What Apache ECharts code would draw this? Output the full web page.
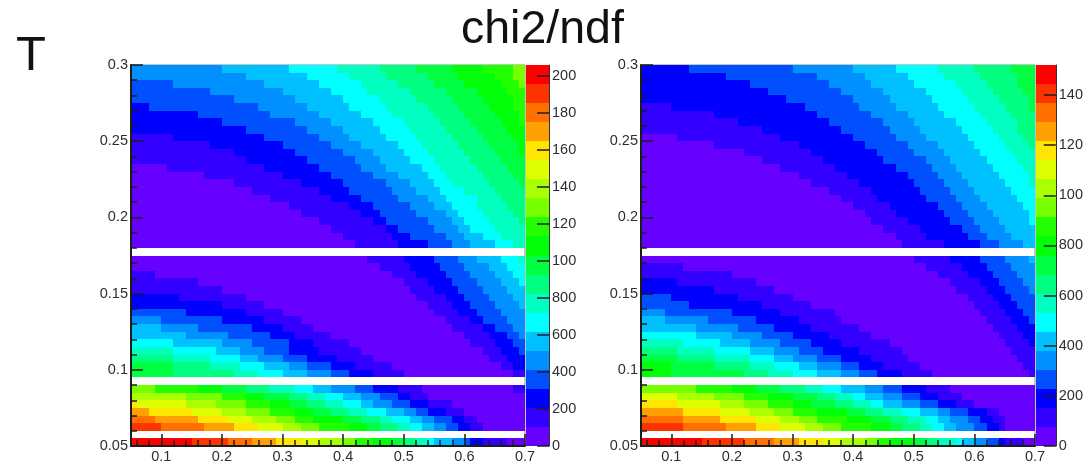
<!DOCTYPE html>
<html><head><meta charset="utf-8">
<style>html,body{margin:0;padding:0;background:#fff}#c{width:1086px;height:469px;filter:blur(0.55px)}</style>
<script src="https://cdn.jsdelivr.net/npm/echarts@6/dist/echarts.min.js"></script>
</head><body><div id="c"></div>
<script>
// Contour bands. Each row (bottom to top, 0.005 tall) lists [band, endColumn, ...]; columns are 0.01 wide. null = empty (white) row.
const leftRows = [
[19,10,18,16,17,20,16,24,15,28,14,31,13,35,12,37,11,40,10,43,9,45,8,47,7,49,6,50,5,53,4,55,3,56,2,58,1,62,0,65],
null,
[18,5,17,12,16,17,15,21,14,25,13,28,12,31,11,36,10,39,9,41,8,44,7,46,6,48,5,50,4,52,3,54,2,56,1,58,0,65],
[17,4,16,11,15,16,14,20,13,24,12,27,11,30,10,35,9,38,8,41,7,43,6,46,5,48,4,50,3,53,2,55,1,57,0,65],
[16,3,15,10,14,15,13,19,12,23,11,27,10,30,9,33,8,36,7,39,6,42,5,45,4,47,3,49,2,52,1,55,0,65],
[15,1,14,9,13,14,12,19,11,23,10,26,9,29,8,32,7,35,6,38,5,40,4,43,3,46,2,49,1,53,0,65],
[13,9,12,15,11,19,10,22,9,26,8,29,7,32,6,35,5,38,4,41,3,44,2,46,1,49,0,65],
[12,4,11,11,10,15,9,19,8,23,7,27,6,30,5,33,4,37,3,40,2,44,1,48,0,63,1,65],
null,
[9,7,8,17,7,21,6,25,5,29,4,33,3,36,2,40,1,45,0,63,1,65],
[9,7,8,13,7,18,6,22,5,26,4,29,3,33,2,37,1,43,0,61,1,63,2,65],
[8,7,7,13,6,18,5,21,4,25,3,29,2,34,1,40,0,59,1,62,2,65],
[7,7,6,14,5,18,4,22,3,26,2,31,1,38,0,58,1,61,2,64,3,65],
[6,7,5,15,4,20,3,26,2,30,1,36,0,56,1,60,2,63,3,65],
[5,9,4,16,3,23,2,27,1,33,0,55,1,59,2,62,3,64,4,65],
[5,5,4,11,3,20,2,25,1,30,0,53,1,58,2,60,3,63,4,65],
[4,5,3,15,2,22,1,28,0,52,1,56,2,58,3,62,4,65],
[3,9,2,19,1,25,0,50,1,54,2,57,3,61,4,65],
[2,15,1,22,0,49,1,53,2,56,3,60,4,64,5,65],
[2,8,1,19,0,47,1,52,2,55,3,59,4,63,5,65],
[1,15,0,46,1,50,2,54,3,58,4,62,5,65],
[1,11,0,45,1,49,2,53,3,57,4,61,5,64,6,65],
[1,4,0,43,1,47,2,52,3,56,4,60,5,63,6,65],
[0,41,1,46,2,51,3,55,4,59,5,62,6,65],
[0,39,1,45,2,50,3,54,4,57,5,61,6,64,7,65],
null,
[0,37,1,44,2,49,3,53,4,56,5,60,6,63,7,65],
[0,35,1,43,2,46,3,52,4,55,5,58,6,61,7,65],
[0,33,1,42,2,44,3,50,4,54,5,56,6,60,7,65],
[0,31,1,40,2,42,3,49,4,53,5,55,6,59,7,64,8,65],
[0,28,1,38,2,41,3,47,4,52,5,54,6,58,7,63,8,65],
[0,26,1,36,2,40,3,46,4,50,5,53,6,57,7,62,8,65],
[0,23,1,33,2,38,3,44,4,49,5,52,6,57,7,61,8,65],
[0,20,1,31,2,36,3,43,4,47,5,51,6,55,7,60,8,65],
[0,17,1,28,2,35,3,42,4,46,5,50,6,53,7,59,8,64,9,65],
[0,12,1,25,2,33,3,40,4,44,5,49,6,52,7,58,8,63,9,65],
[0,6,1,22,2,31,3,38,4,42,5,48,6,51,7,57,8,62,9,65],
[1,19,2,29,3,37,4,41,5,46,6,50,7,56,8,61,9,65],
[1,17,2,27,3,35,4,40,5,45,6,49,7,55,8,60,9,64,10,65],
[1,13,2,25,3,33,4,38,5,44,6,48,7,54,8,59,9,64,10,65],
[1,7,2,22,3,31,4,36,5,42,6,47,7,53,8,58,9,63,10,65],
[2,19,3,29,4,35,5,41,6,46,7,52,8,57,9,62,10,65],
[2,15,3,27,4,33,5,40,6,45,7,51,8,56,9,61,10,64,11,65],
[2,11,3,23,4,31,5,38,6,43,7,50,8,55,9,60,10,64,11,65],
[2,3,3,21,4,29,5,36,6,42,7,49,8,54,9,59,10,63,11,65],
[3,17,4,27,5,35,6,41,7,47,8,53,9,58,10,63,11,65],
[3,13,4,25,5,33,6,39,7,46,8,52,9,57,10,62,11,65],
[3,7,4,22,5,31,6,38,7,44,8,50,9,55,10,61,11,64,12,65],
[4,19,5,29,6,36,7,42,8,49,9,54,10,60,11,63,12,65],
[4,15,5,26,6,34,7,41,8,47,9,53,10,58,11,63,12,65]
];
const rightRows = [
[19,10,18,17,17,22,16,26,15,30,14,33,13,37,12,39,11,41,10,45,9,47,8,49,7,52,6,53,5,55,4,57,3,59,2,60,1,63,0,65],
null,
[18,7,17,14,16,19,15,23,14,27,13,30,12,33,11,38,10,41,9,43,8,46,7,48,6,50,5,52,4,55,3,57,2,59,1,60,0,65],
[17,7,16,13,15,19,14,23,13,26,12,29,11,34,10,38,9,41,8,44,7,47,6,49,5,51,4,54,3,56,2,58,1,60,0,65],
[16,7,15,13,14,18,13,22,12,25,11,29,10,34,9,37,8,40,7,43,6,46,5,49,4,51,3,54,2,57,1,59,0,65],
[15,6,14,13,13,17,12,21,11,25,10,28,9,32,8,35,7,38,6,40,5,43,4,46,3,49,2,52,1,55,0,65],
[14,6,13,12,12,17,11,21,10,25,9,29,8,32,7,35,6,37,5,40,4,43,3,46,2,49,1,53,0,65],
[12,9,11,15,10,19,9,23,8,27,7,30,6,33,5,37,4,40,3,43,2,47,1,51,0,65],
null,
[10,5,9,17,8,21,7,25,6,29,5,33,4,36,3,39,2,43,1,48,0,64,1,65],
[10,5,9,12,8,18,7,22,6,26,5,29,4,33,3,36,2,40,1,46,0,63,1,65],
[9,6,8,12,7,18,6,22,5,25,4,29,3,33,2,38,1,44,0,62,1,65],
[8,6,7,12,6,18,5,22,4,26,3,30,2,36,1,43,0,61,1,65],
[7,7,6,13,5,18,4,23,3,28,2,33,1,41,0,60,1,64,2,65],
[6,9,5,15,4,20,3,25,2,31,1,38,0,59,1,63,2,65],
[5,9,4,16,3,22,2,28,1,36,0,58,1,62,2,65],
[5,4,4,11,3,19,2,26,1,33,0,57,1,61,2,64,3,65],
[4,4,3,15,2,23,1,32,0,56,1,60,2,63,3,65],
[3,8,2,20,1,28,0,55,1,59,2,62,3,65],
[3,5,2,16,1,25,0,54,1,58,2,61,3,65],
[2,12,1,22,0,52,1,57,2,60,3,64,4,65],
[2,6,1,19,0,51,1,56,2,59,3,63,4,65],
[1,15,0,49,1,54,2,58,3,62,4,65],
[1,7,0,47,1,53,2,57,3,61,4,65],
[0,45,1,51,2,56,3,60,4,64,5,65],
null,
[0,43,1,50,2,56,3,59,4,63,5,65],
[0,42,1,47,2,54,3,57,4,61,5,65],
[0,40,1,46,2,53,3,56,4,60,5,65],
[0,38,1,44,2,51,3,55,4,59,5,64,6,65],
[0,37,1,42,2,50,3,54,4,58,5,64,6,65],
[0,35,1,41,2,49,3,53,4,57,5,63,6,65],
[0,33,1,39,2,47,3,52,4,56,5,62,6,65],
[0,31,1,38,2,46,3,51,4,55,5,61,6,65],
[0,28,1,36,2,45,3,50,4,54,5,60,6,64,7,65],
[0,26,1,34,2,44,3,49,4,53,5,59,6,64,7,65],
[0,23,1,32,2,42,3,48,4,52,5,58,6,63,7,65],
[0,20,1,30,2,40,3,47,4,51,5,57,6,62,7,65],
[0,17,1,28,2,39,3,45,4,50,5,56,6,61,7,65],
[0,12,1,26,2,37,3,44,4,49,5,55,6,60,7,64,8,65],
[0,6,1,23,2,35,3,42,4,47,5,54,6,59,7,63,8,65],
[1,20,2,33,3,41,4,46,5,53,6,58,7,62,8,65],
[1,16,2,31,3,40,4,45,5,52,6,57,7,62,8,65],
[1,12,2,29,3,38,4,44,5,50,6,56,7,61,8,65],
[1,5,2,27,3,36,4,42,5,49,6,55,7,60,8,64,9,65],
[2,24,3,35,4,41,5,48,6,54,7,59,8,64,9,65],
[2,21,3,33,4,40,5,47,6,53,7,58,8,63,9,65],
[2,18,3,31,4,38,5,45,6,52,7,57,8,62,9,65],
[2,14,3,29,4,37,5,44,6,50,7,56,8,62,9,65],
[2,8,3,25,4,35,5,42,6,49,7,55,8,61,9,65]
];
const palette = ['#6600ff','#3300ff','#0000ff','#0050ff','#0090ff','#00c0ff','#00ffff','#00ffc0','#00ff80','#00ff40','#00ff08','#22ff00','#77ff00','#aaff00','#ddff00','#ffe600','#ffa000','#ff7000','#ff3300','#ff0000'];
const leftMax = 205.8, rightMax = 152;
const xMajor = [0.1,0.2,0.3,0.4,0.5,0.6,0.7];
const xMinor = [0.06,0.08,0.12,0.14,0.16,0.18,0.22,0.24,0.26,0.28,0.32,0.34,0.36,0.38,0.42,0.44,0.46,0.48,0.52,0.54,0.56,0.58,0.62,0.64,0.66,0.68];
const yMajor = [0.05,0.1,0.15,0.2,0.25,0.3];
const yMinor = [0.06,0.07,0.08,0.09,0.11,0.12,0.13,0.14,0.16,0.17,0.18,0.19,0.21,0.22,0.23,0.24,0.26,0.27,0.28,0.29];
const leftBarTicks = [0,20,40,60,80,100,120,140,160,180,200];
const leftBarLabels = ['0','200','400','600','800','100','120','140','160','180','200'];
const rightBarTicks = [0,20,40,60,80,100,120,140];
const rightBarLabels = ['0','200','400','600','800','100','120','140'];

const font = '"Liberation Sans", Arial, sans-serif';
const ink = '#1c1c1c';
const labelInk = '#2b2f36';
function cells(rows, max){
  const step = max/20, out = [];
  rows.forEach((r,i)=>{
    if(!r) return;
    let c0 = 0;
    for(let k=0;k<r.length;k+=2){
      out.push([0.05+c0*0.01, 0.05+r[k+1]*0.01, 0.05+i*0.005, 0.05+(i+1)*0.005, (r[k]+0.5)*step]);
      c0 = r[k+1];
    }
  });
  return out;
}
function barCells(max){
  const step = max/20;
  return palette.map((p,k)=>[0,1,k*step,(k+1)*step,(k+0.5)*step]);
}
const render = max => (params, api) => {
  const a = api.coord([api.value(0), api.value(2)]);
  const b = api.coord([api.value(1), api.value(3)]);
  const x0 = Math.round(a[0]), x1 = Math.round(b[0]), y0 = Math.round(b[1]), y1 = Math.round(a[1]);
  const band = Math.min(19, Math.floor(api.value(4)/(max/20)));
  return {type:'rect', shape:{x:x0,y:y0,width:x1-x0,height:y1-y0}, style:{fill:palette[band]}};
};
function series(data,max,xi,yi){
  return {type:'custom', xAxisIndex:xi, yAxisIndex:yi, renderItem:render(max), data, clip:false, silent:true, animation:false,
          encode:{x:[0,1],y:[2,3]}, z:2};
}
function mainX(grid, major){
  return major
   ? {type:'value',gridIndex:grid,position:'bottom',min:0.05,max:0.7,z:10,splitLine:{show:false},
      axisLine:{onZero:false,lineStyle:{color:ink,width:2}},
      axisTick:{inside:true,length:12,lineStyle:{color:ink,width:1.5},customValues:xMajor},
      axisLabel:{customValues:xMajor,margin:3,color:labelInk,fontSize:14.5,fontFamily:font,formatter:v=>String(v)}}
   : {type:'value',gridIndex:grid,position:'bottom',min:0.05,max:0.7,z:10,splitLine:{show:false},
      axisLine:{show:false,onZero:false},axisLabel:{show:false},
      axisTick:{inside:true,length:6,lineStyle:{color:ink,width:1.5},customValues:xMinor}};
}
function mainY(grid, major){
  return major
   ? {type:'value',gridIndex:grid,position:'left',min:0.05,max:0.3,z:10,splitLine:{show:false},
      axisLine:{onZero:false,lineStyle:{color:ink,width:2}},
      axisTick:{inside:true,length:12,lineStyle:{color:ink,width:1.5},customValues:yMajor},
      axisLabel:{customValues:yMajor,margin:3,padding:[3,0,0,0],color:labelInk,fontSize:14.5,fontFamily:font,formatter:v=>String(v)}}
   : {type:'value',gridIndex:grid,position:'left',min:0.05,max:0.3,z:10,splitLine:{show:false},
      axisLine:{show:false,onZero:false},axisLabel:{show:false},
      axisTick:{inside:true,length:6,lineStyle:{color:ink,width:1.5},customValues:yMinor}};
}
function barX(grid){
  return {type:'value',gridIndex:grid,min:0,max:1,show:false};
}
function barY(grid,max,ticks,labels){
  return {type:'value',gridIndex:grid,position:'right',min:0,max:max,z:10,splitLine:{show:false},
    axisLine:{show:true,onZero:false,lineStyle:{color:'#333',width:1}},
    axisTick:{inside:true,length:12,lineStyle:{color:ink,width:1.5},customValues:ticks},
    axisLabel:{customValues:ticks,margin:3,color:labelInk,fontSize:14.5,fontFamily:font,formatter:v=>labels[ticks.indexOf(v)]}};
}
const chart = echarts.init(document.getElementById('c'),null,{renderer:'canvas'});
chart.setOption({
  animation:false,
  backgroundColor:'#fff',
  title:[
    {text:'chi2/ndf',left:456,top:2,textStyle:{fontFamily:font,fontWeight:'normal',fontSize:46.5,color:'#111'}},
    {text:'T',left:11,top:27,textStyle:{fontFamily:font,fontWeight:'normal',fontSize:49,color:'#111'}}
  ],
  grid:[
    {left:131,top:65,width:394,height:381,show:true,borderColor:'#888',borderWidth:1,backgroundColor:'#fff'},
    {left:526,top:65,width:23,height:381},
    {left:641,top:65,width:394,height:381,show:true,borderColor:'#888',borderWidth:1,backgroundColor:'#fff'},
    {left:1036,top:65,width:23,height:381}
  ],
  xAxis:[mainX(0,true),mainX(0,false),barX(1),mainX(2,true),mainX(2,false),barX(3)],
  yAxis:[mainY(0,true),mainY(0,false),barY(1,leftMax,leftBarTicks,leftBarLabels),mainY(2,true),mainY(2,false),barY(3,rightMax,rightBarTicks,rightBarLabels)],
  series:[
    series(cells(leftRows,leftMax),leftMax,0,0),
    series(barCells(leftMax),leftMax,2,2),
    series(cells(rightRows,rightMax),rightMax,3,3),
    series(barCells(rightMax),rightMax,5,5)
  ]
});
</script></body></html>
